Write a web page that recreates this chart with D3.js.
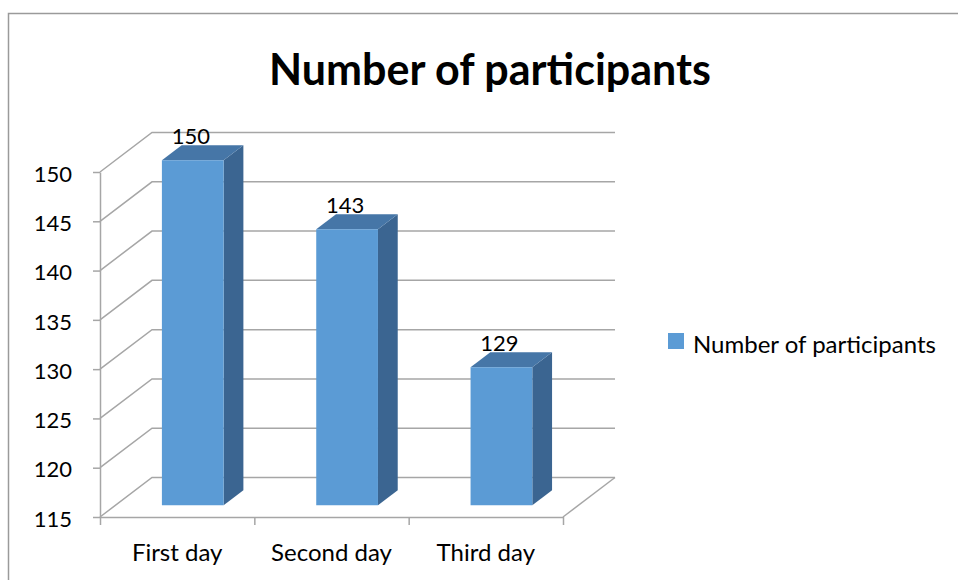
<!DOCTYPE html>
<html>
<head>
<meta charset="utf-8">
<script src="https://cdn.jsdelivr.net/npm/d3@7"></script>
<style>
  body { margin: 0; background: #fff; }
  text { font-family: Lato, "Open Sans", sans-serif; fill: #000; }
</style>
</head>
<body>
<div id="chart"></div>
<script>
// data
const categories = ["First day", "Second day", "Third day"];
const values = [150, 143, 129];
const seriesName = "Number of participants";
const yTicks = [115, 120, 125, 130, 135, 140, 145, 150];

const width = 958, height = 580;

const svg = d3.select('#chart').append('svg')
    .attr('width', width)
    .attr('height', height);

// outer chart frame (runs off the page on right/bottom)
svg.append('rect')
    .attr('x', 8.5).attr('y', 13.5)
    .attr('width', 1000).attr('height', 700)
    .attr('fill', 'none')
    .attr('stroke', '#9a9a9a')
    .attr('stroke-width', 1.5);

// title
svg.append('text')
    .attr('x', 490).attr('y', 85)
    .attr('text-anchor', 'middle')
    .style('font-size', '43px')
    .style('font-weight', 'bold')
    .text(seriesName);

// 3d geometry: depth offset of the back wall
const DX = 52, DY = 39.5;
const f0 = 0.3, f1 = 0.68;   // bar depth (fraction of floor depth)

const x = d3.scaleBand()
    .domain(categories)
    .range([100, 563])
    .paddingInner(0.6)
    .paddingOuter(0.3);

const y = d3.scaleLinear()
    .domain([115, 150])
    .range([517, 172]);

const proj = (px, v, f) => [px + f * DX, y(v) - f * DY];

const gridColor = '#a6a6a6';
const x0 = x.range()[0], x1 = x.range()[1];

// back wall gridlines + side bevels
const grid = svg.append('g').attr('stroke', gridColor).attr('stroke-width', 1.5).attr('fill', 'none');
yTicks.forEach(t => {
    const a = proj(x0, t, 0), b = proj(x0, t, 1), c = proj(x1, t, 1);
    grid.append('path').attr('d', `M${a}L${b}L${c}`);
});
// floor front-right edge
grid.append('path').attr('d', `M${proj(x1, 115, 0)}L${proj(x1, 115, 1)}`);

// front axes
const yAxis = d3.axisLeft(y).tickValues(yTicks).tickSize(7).tickSizeOuter(0).tickPadding(21);
const gy = svg.append('g').attr('transform', `translate(${x0},0)`).call(yAxis);
gy.selectAll('path, line').attr('stroke', gridColor).attr('stroke-width', 1.5);
gy.selectAll('text').style('font-size', '22px').attr('dy', '0.42em').style('font-family', 'Lato, sans-serif');

const xEdge = d3.scaleLinear().domain([0, categories.length]).range(x.range());
const gx = svg.append('g').attr('transform', `translate(0,${y(115)})`)
    .call(d3.axisBottom(xEdge).tickValues(d3.range(categories.length + 1)).tickSize(8).tickSizeOuter(0).tickFormat(''));
gx.selectAll('path, line').attr('stroke', gridColor).attr('stroke-width', 1.5);

svg.append('g').selectAll('text')
    .data(categories)
    .enter().append('text')
    .attr('x', d => x(d) + x.bandwidth() / 2)
    .attr('y', 561)
    .attr('text-anchor', 'middle')
    .style('font-size', '24px')
    .text(d => d);

// bars
const bars = svg.append('g').selectAll('g')
    .data(categories.map((c, i) => ({ c, v: values[i] })))
    .enter().append('g');

const poly = pts => 'M' + pts.map(p => p.join(',')).join('L') + 'Z';

bars.append('path') // side
    .attr('fill', '#3b6591')
    .attr('d', d => {
        const r = x(d.c) + x.bandwidth();
        return poly([proj(r, 115, f0), proj(r, 115, f1), proj(r, d.v, f1), proj(r, d.v, f0)]);
    });
bars.append('path') // top
    .attr('fill', '#4676a7')
    .attr('d', d => {
        const l = x(d.c), r = l + x.bandwidth();
        return poly([proj(l, d.v, f0), proj(r, d.v, f0), proj(r, d.v, f1), proj(l, d.v, f1)]);
    });
bars.append('path') // front
    .attr('fill', '#5b9bd5')
    .attr('d', d => {
        const l = x(d.c), r = l + x.bandwidth();
        return poly([proj(l, 115, f0), proj(r, 115, f0), proj(r, d.v, f0), proj(l, d.v, f0)]);
    });

// data labels
bars.append('text')
    .attr('x', d => proj(x(d.c) + x.bandwidth() / 2, d.v, f0)[0] - 2)
    .attr('y', d => proj(0, d.v, f1)[1] - 1)
    .attr('text-anchor', 'middle')
    .style('font-size', '22px')
    .text(d => d.v);

// legend
const lg = svg.append('g').attr('transform', 'translate(668,333)');
lg.append('rect').attr('width', 16).attr('height', 16).attr('fill', '#5b9bd5');
lg.append('text').attr('x', 25).attr('y', 20).style('font-size', '24px').text(seriesName);
</script>
</body>
</html>
